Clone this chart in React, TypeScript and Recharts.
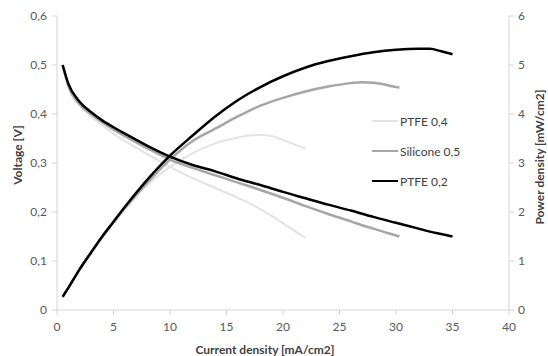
import { LineChart, Line, XAxis, YAxis, Label } from 'recharts'

// PTFE 0,4 (light grey)
const ptfe04Current = [0.5, 1, 2, 3, 4, 5, 6, 8, 10, 12, 14, 16, 17, 18, 19, 20, 21, 22]
const ptfe04Voltage = [0.5, 0.455, 0.418, 0.395, 0.377, 0.36, 0.345, 0.318, 0.292, 0.269, 0.249, 0.229, 0.218, 0.206, 0.192, 0.177, 0.162, 0.147]
const ptfe04Power = [0.26, 0.45, 0.82, 1.15, 1.48, 1.77, 2.05, 2.55, 2.92, 3.2, 3.4, 3.52, 3.56, 3.57, 3.55, 3.47, 3.38, 3.29]

// Silicone 0,5 (mid grey)
const siliconeCurrent = [0.5, 1, 2, 3, 4, 5, 6, 8, 10, 12, 14, 16, 18, 20, 22, 24, 26, 27, 28, 29, 30, 30.3]
const siliconeVoltage = [0.5, 0.458, 0.42, 0.4, 0.383, 0.368, 0.355, 0.33, 0.307, 0.29, 0.275, 0.26, 0.245, 0.229, 0.212, 0.196, 0.181, 0.173, 0.166, 0.159, 0.152, 0.15]
const siliconePower = [0.27, 0.45, 0.83, 1.16, 1.49, 1.79, 2.08, 2.6, 3.07, 3.45, 3.7, 3.95, 4.17, 4.33, 4.46, 4.56, 4.63, 4.65, 4.64, 4.6, 4.55, 4.54]

// PTFE 0,2 (black)
const ptfe02Current = [0.5, 1, 2, 3, 4, 5, 6, 8, 10, 12, 14, 16, 18, 20, 22, 24, 26, 28, 30, 32, 33, 34, 35]
const ptfe02Voltage = [0.5, 0.462, 0.425, 0.404, 0.387, 0.373, 0.36, 0.335, 0.313, 0.296, 0.283, 0.268, 0.255, 0.241, 0.228, 0.215, 0.203, 0.19, 0.178, 0.166, 0.16, 0.155, 0.15]
const ptfe02Power = [0.27, 0.45, 0.83, 1.17, 1.5, 1.8, 2.1, 2.66, 3.15, 3.56, 3.95, 4.28, 4.55, 4.77, 4.95, 5.08, 5.18, 5.26, 5.31, 5.33, 5.33, 5.28, 5.22]

const xTicks = [0, 5, 10, 15, 20, 25, 30, 35, 40]
const voltageTicks = [0, 0.1, 0.2, 0.3, 0.4, 0.5, 0.6]
const powerTicks = [0, 1, 2, 3, 4, 5, 6]

const series = [
  { name: 'PTFE 0,4', color: '#e3e3e3', width: 2, current: ptfe04Current, voltage: ptfe04Voltage, power: ptfe04Power },
  { name: 'Silicone 0,5', color: '#a6a6a6', width: 2.5, current: siliconeCurrent, voltage: siliconeVoltage, power: siliconePower },
  { name: 'PTFE 0,2', color: '#000000', width: 2.5, current: ptfe02Current, voltage: ptfe02Voltage, power: ptfe02Power },
]

const FONT = 'Lato, "Open Sans", sans-serif'
const AXIS = '#d4d4d4'
const TICK = { fill: '#595959', fontSize: 12, fontFamily: FONT }
const TITLE = { fill: '#404040', fontSize: 12, fontWeight: 700, fontFamily: FONT }

const comma = (v: number) => (v === 0 ? '0' : v.toFixed(1).replace('.', ','))

// rotated axis title, dx = distance from the axis box's left edge
function sideTitle(text: string, dx: number, dy: number) {
  return (props: any) => {
    const vb = props.viewBox
    const x = vb.x + dx
    const y = vb.y + vb.height / 2 + dy
    return (
      <text x={x} y={y} transform={`rotate(-90, ${x}, ${y})`} textAnchor="middle" dominantBaseline="central" style={TITLE}>
        {text}
      </text>
    )
  }
}

export default function App() {
  return (
    <div style={{ position: 'relative', width: 548, height: 356, background: '#fff' }}>
      <style>{'body{margin:0}'}</style>
      <LineChart width={548} height={356} margin={{ top: 16, right: 0, bottom: 0, left: 0 }}>
        <XAxis
          type="number"
          dataKey="x"
          domain={[0, 40]}
          ticks={xTicks}
          allowDataOverflow
          stroke={AXIS}
          tickSize={5}
          tickMargin={7}
          tick={TICK}
          height={46}
        >
          <Label
            content={(props: any) => {
              const vb = props.viewBox
              return (
                <text x={vb.x + vb.width / 2 - 18} y={vb.y + 39} textAnchor="middle" dominantBaseline="central" style={TITLE}>
                  Current density [mA/cm2]
                </text>
              )
            }}
          />
        </XAxis>
        <YAxis
          yAxisId="left"
          type="number"
          domain={[0, 0.6]}
          ticks={voltageTicks}
          tickFormatter={comma}
          stroke={AXIS}
          tickSize={5}
          tickMargin={5}
          tick={TICK}
          width={57}
        >
          <Label content={sideTitle('Voltage [V]', 17, -8)} />
        </YAxis>
        <YAxis
          yAxisId="right"
          orientation="right"
          type="number"
          domain={[0, 6]}
          ticks={powerTicks}
          stroke={AXIS}
          tickSize={5}
          tickMargin={4}
          tick={TICK}
          width={39}
        >
          <Label content={sideTitle('Power density  [mW/cm2]', 30, -6)} />
        </YAxis>
        {series.map((s) => {
          const rows = s.current.map((x, i) => ({ x, v: s.voltage[i], p: s.power[i] }))
          return [
            <Line
              key={s.name + '-v'}
              yAxisId="left"
              data={rows}
              dataKey="v"
              type="monotone"
              stroke={s.color}
              strokeWidth={s.width}
              dot={false}
              activeDot={false}
              isAnimationActive={false}
            />,
            <Line
              key={s.name + '-p'}
              yAxisId="right"
              data={rows}
              dataKey="p"
              type="monotone"
              stroke={s.color}
              strokeWidth={s.width}
              dot={false}
              activeDot={false}
              isAnimationActive={false}
            />,
          ]
        })}
      </LineChart>
      <div style={{ position: 'absolute', left: 372, top: 106, fontFamily: FONT, fontSize: 12, color: '#404040' }}>
        {series.map((s) => (
          <div key={s.name} style={{ display: 'flex', alignItems: 'center', height: 30 }}>
            <span style={{ display: 'inline-block', width: 26, height: s.width, background: s.color, marginRight: 2 }} />
            <span>{s.name}</span>
          </div>
        ))}
      </div>
    </div>
  )
}
